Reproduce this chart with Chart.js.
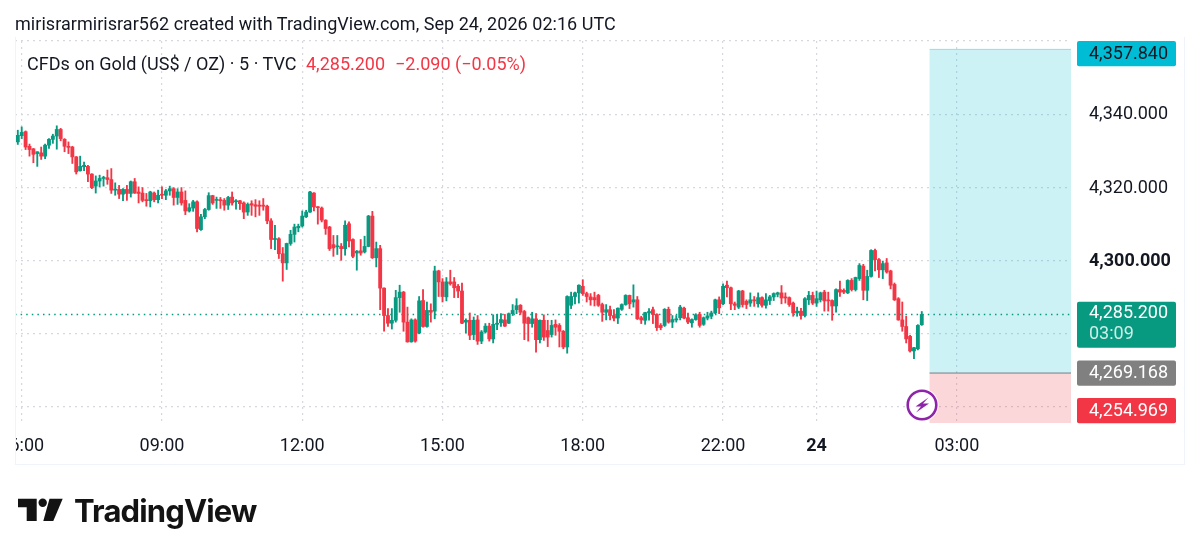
<!DOCTYPE html>
<html>
<head>
<meta charset="utf-8">
<title>CFDs on Gold</title>
<script src="https://cdn.jsdelivr.net/npm/chart.js@4"></script>
<style>
  html, body { margin: 0; padding: 0; background: #fff; }
  #wrap { position: relative; width: 1199px; height: 556px; overflow: hidden; font-family: Roboto, sans-serif; color: #131722; }
  #wrap div, #wrap span { white-space: pre; }
  canvas { position: absolute; left: 0; top: 0; }
  .abs { position: absolute; }
  #frame { left: 15px; top: 37px; width: 1168px; height: 427px; border: 1px solid #f0f3fa; border-top: none; }
  #head { left: 15px; top: 12px; font-size: 18px; line-height: 24px; letter-spacing: 0.04px; }
  #legend { left: 27px; top: 52px; font-size: 18px; line-height: 24px; letter-spacing: 0.03px; }
  #legend .px { position: absolute; top: 0; color: #f23645; letter-spacing: 0; }
  #logoText { left: 74px; top: 492px; font-family: Inter, sans-serif; font-weight: 700; font-size: 31px; line-height: 38px; letter-spacing: -0.85px; color: #131313; }
</style>
</head>
<body>
<div id="wrap">
  <canvas id="chart" width="1199" height="556"></canvas>
  <div class="abs" id="frame"></div>
  <div class="abs" id="head">mirisrarmirisrar562 created with TradingView.com, Sep 24, 2026 02:16 UTC</div>
  <div class="abs" id="legend">CFDs on Gold (US$ / OZ) · 5 · TVC<span class="px" style="left:279px">4,285.200</span><span class="px" style="left:368px">−2.090 (−0.05%)</span></div>
  <svg class="abs" style="left:905px;top:389px" width="34" height="34" viewBox="0 0 34 34">
    <circle cx="17" cy="16" r="16.5" fill="#fff"/>
    <circle cx="17" cy="16" r="14.3" fill="#fff" stroke="#8e24aa" stroke-width="2.6"/>
    <path d="M23.5 8.5 L10.5 17.5 L16 17.5 L11 23.5 L24 14.5 L18 14.5 Z" fill="#8e24aa"/>
  </svg>
  <svg class="abs" style="left:0;top:490px" width="70" height="40" viewBox="0 0 70 40">
    <path d="M18 8.7 H36.7 V31 H26.7 V17.3 H18 Z" fill="#131313"/>
    <circle cx="42.7" cy="12.7" r="4.2" fill="#131313"/>
    <path d="M49.5 8.7 H62.7 L53.3 31 H43.3 Z" fill="#131313"/>
  </svg>
  <div class="abs" id="logoText">TradingView</div>
</div>
<script>
// 5 minute candles, 05:55 to 02:15
const opens = [
  4332.4,4334.1,4335.2,4331.2,4330.5,4329.2,4329.4,4328.5,4331.5,4333.1,
  4334.0,4335.8,4333.1,4331.2,4331.0,4328.3,4324.5,4325.6,4325.7,4323.6,
  4320.3,4321.7,4322.4,4322.6,4322.1,4319.2,4319.4,4318.1,4319.4,4318.3,
  4321.5,4318.7,4318.4,4316.6,4316.3,4318.4,4316.6,4318.1,4317.8,4319.0,
  4319.6,4317.2,4318.7,4316.4,4313.5,4314.3,4316.0,4308.4,4311.9,4313.9,
  4317.7,4316.4,4316.6,4316.4,4315.1,4317.3,4316.0,4316.3,4315.7,4313.2,
  4315.5,4315.2,4315.1,4315.1,4314.8,4310.8,4305.7,4305.9,4301.8,4299.3,
  4304.6,4307.1,4308.9,4309.4,4311.9,4313.2,4318.4,4314.6,4314.3,4311.0,
  4309.1,4304.3,4303.7,4303.8,4303.2,4310.0,4305.7,4302.0,4302.6,4302.3,
  4303.8,4312.1,4300.7,4303.2,4292.4,4284.9,4282.8,4283.6,4289.8,4291.3,
  4283.1,4277.7,4283.7,4280.1,4289.0,4281.9,4286.3,4286.1,4297.1,4294.1,
  4290.0,4294.1,4294.1,4292.9,4291.6,4283.1,4283.6,4279.7,4283.7,4277.9,
  4280.4,4282.0,4278.5,4282.5,4282.9,4283.7,4282.8,4285.4,4286.5,4287.7,
  4286.0,4284.3,4282.7,4284.0,4278.3,4283.6,4280.8,4279.7,4282.5,4282.2,
  4280.6,4276.3,4287.7,4290.1,4291.1,4292.9,4290.9,4290.0,4289.8,4290.4,
  4287.9,4285.8,4286.5,4284.9,4284.2,4286.6,4287.9,4290.4,4288.6,4289.2,
  4284.3,4283.6,4285.6,4286.5,4285.2,4282.2,4282.2,4286.6,4283.1,4283.7,
  4284.3,4286.9,4284.3,4282.9,4283.8,4285.2,4282.5,4284.2,4284.7,4285.6,
  4289.2,4288.1,4293.2,4292.5,4288.1,4287.2,4291.6,4288.8,4288.3,4289.2,
  4288.1,4289.8,4287.7,4289.0,4290.0,4290.7,4291.1,4290.0,4289.8,4288.3,
  4285.6,4286.1,4284.9,4289.2,4290.4,4288.3,4289.2,4291.3,4289.0,4289.0,
  4287.5,4292.0,4291.8,4291.1,4294.5,4292.0,4295.0,4298.4,4291.8,4295.6,
  4302.7,4300.2,4297.4,4299.3,4297.1,4293.4,4289.5,4283.7,4281.9,4279.2,
  4275.2,4275.8,4282.4
];
const highs = [
  4335.6,4336.5,4335.4,4331.8,4330.6,4329.7,4331.0,4331.8,4333.3,4334.5,
  4336.8,4336.1,4333.3,4332.4,4331.2,4328.4,4328.5,4326.9,4326.0,4323.7,
  4323.1,4323.3,4323.0,4324.7,4325.1,4321.2,4320.5,4319.6,4320.5,4321.7,
  4322.4,4320.1,4319.9,4318.3,4318.9,4318.7,4319.2,4320.1,4319.4,4320.3,
  4319.9,4319.6,4319.9,4319.0,4315.5,4316.4,4316.3,4312.6,4314.2,4318.5,
  4317.8,4317.3,4317.2,4316.9,4317.5,4318.7,4316.6,4316.4,4316.0,4315.7,
  4316.3,4316.6,4316.3,4316.9,4315.1,4311.4,4309.6,4306.2,4303.5,4304.7,
  4308.2,4309.9,4309.9,4313.5,4313.7,4318.9,4318.5,4314.7,4314.6,4311.1,
  4309.3,4306.8,4306.8,4304.6,4310.8,4310.5,4305.9,4302.7,4305.7,4306.6,
  4312.3,4313.4,4305.0,4304.1,4292.5,4286.8,4286.8,4291.8,4293.2,4291.5,
  4287.2,4284.0,4284.0,4290.1,4292.0,4288.6,4288.1,4298.4,4297.3,4295.0,
  4295.3,4297.3,4295.3,4293.4,4293.8,4284.0,4285.6,4284.5,4284.9,4280.8,
  4282.7,4282.8,4285.1,4285.2,4285.4,4285.2,4285.6,4287.9,4289.5,4287.9,
  4286.3,4284.5,4285.8,4285.4,4283.7,4285.1,4283.6,4283.6,4283.7,4282.7,
  4280.8,4290.3,4291.3,4291.3,4293.3,4294.7,4291.3,4290.9,4291.3,4290.7,
  4288.3,4287.9,4287.5,4286.5,4287.0,4288.1,4290.6,4290.5,4293.3,4290.1,
  4284.7,4285.8,4286.8,4287.2,4285.4,4282.7,4286.8,4287.2,4284.9,4284.9,
  4287.7,4287.2,4285.6,4284.0,4285.4,4285.8,4284.5,4285.8,4286.1,4289.4,
  4290.0,4293.6,4294.3,4292.7,4288.6,4291.8,4291.8,4289.2,4291.1,4290.1,
  4291.1,4290.0,4290.9,4290.4,4291.1,4291.3,4293.1,4291.1,4290.0,4288.6,
  4287.2,4286.9,4289.8,4291.5,4291.3,4291.6,4291.3,4291.8,4291.3,4289.2,
  4292.2,4294.3,4292.2,4294.7,4295.0,4295.4,4299.1,4298.9,4297.3,4302.9,
  4303.1,4300.5,4299.8,4300.5,4297.3,4293.8,4289.8,4288.6,4284.7,4279.5,
  4276.2,4282.4,4286.0
];
const lows = [
  4331.7,4333.3,4330.3,4328.5,4326.7,4325.7,4327.6,4327.8,4330.6,4332.0,
  4330.4,4332.7,4329.7,4329.2,4326.5,4323.6,4324.4,4324.5,4321.5,4319.6,
  4318.4,4320.1,4320.3,4320.8,4318.3,4317.8,4316.9,4316.3,4316.4,4317.3,
  4318.3,4315.7,4316.0,4314.8,4314.6,4316.0,4315.7,4316.9,4316.6,4317.8,
  4315.1,4315.3,4315.1,4312.5,4313.2,4313.4,4307.8,4308.2,4311.4,4313.7,
  4315.3,4314.2,4314.2,4313.7,4313.9,4315.1,4314.0,4313.9,4311.4,4312.3,
  4312.3,4311.9,4312.3,4313.7,4310.0,4303.2,4302.9,4300.5,4294.3,4297.5,
  4304.1,4305.0,4307.8,4309.1,4311.7,4313.1,4313.5,4309.9,4310.5,4307.1,
  4302.7,4301.1,4301.6,4300.0,4301.4,4303.7,4300.7,4297.3,4301.4,4302.0,
  4303.7,4300.5,4298.2,4286.5,4280.6,4281.9,4281.2,4283.1,4285.8,4280.6,
  4277.6,4277.6,4277.6,4279.9,4281.7,4281.7,4283.1,4284.0,4290.1,4288.6,
  4288.9,4293.2,4289.8,4289.8,4282.7,4280.1,4278.3,4278.3,4277.0,4277.2,
  4280.1,4277.9,4277.4,4281.0,4281.9,4281.9,4282.7,4284.9,4285.4,4285.2,
  4278.3,4277.9,4281.7,4274.9,4277.4,4278.1,4276.4,4279.0,4279.5,4276.3,
  4275.8,4274.6,4286.8,4288.1,4288.3,4290.4,4288.6,4287.7,4287.5,4287.4,
  4283.3,4283.7,4283.7,4283.4,4282.7,4286.3,4287.7,4286.8,4287.2,4283.8,
  4282.7,4282.5,4283.6,4282.7,4280.8,4281.0,4281.9,4282.8,4281.6,4283.1,
  4283.7,4284.0,4282.7,4281.7,4283.6,4281.7,4282.2,4283.7,4284.0,4285.4,
  4285.4,4287.9,4290.0,4286.5,4286.5,4286.8,4287.2,4286.8,4287.4,4287.4,
  4287.2,4287.2,4286.9,4287.9,4289.0,4290.0,4288.1,4288.3,4287.4,4284.7,
  4284.7,4283.9,4284.5,4287.9,4287.9,4287.4,4288.6,4286.1,4286.1,4283.6,
  4285.8,4290.1,4290.9,4290.9,4291.6,4291.6,4294.5,4289.2,4289.0,4295.4,
  4297.1,4295.3,4295.0,4296.5,4292.2,4289.0,4283.6,4280.6,4277.4,4274.9,
  4273.1,4275.5,4282.2
];
const closes = [
  4334.2,4335.0,4331.0,4330.3,4329.0,4329.7,4328.5,4331.5,4333.1,4334.0,
  4335.8,4333.3,4331.2,4330.9,4328.3,4324.2,4325.7,4326.0,4323.6,4319.9,
  4321.7,4322.4,4322.6,4322.1,4319.2,4319.4,4318.1,4319.4,4318.3,4321.5,
  4318.4,4318.3,4316.4,4316.3,4318.7,4316.6,4317.8,4317.8,4319.0,4319.6,
  4317.2,4318.7,4315.7,4313.5,4314.4,4316.0,4308.7,4311.9,4313.9,4317.7,
  4315.7,4316.6,4316.3,4315.1,4317.2,4315.7,4316.3,4315.5,4313.2,4315.3,
  4315.1,4314.8,4314.8,4314.8,4310.8,4305.7,4305.9,4301.8,4299.3,4304.6,
  4307.1,4309.1,4309.3,4312.1,4313.2,4318.7,4314.6,4314.4,4311.0,4308.7,
  4303.2,4303.4,4303.9,4303.2,4309.6,4305.3,4301.1,4302.5,4302.0,4303.8,
  4312.1,4300.7,4303.2,4292.4,4284.9,4282.8,4283.6,4289.8,4291.3,4283.1,
  4277.7,4283.7,4277.9,4288.9,4281.9,4286.3,4285.8,4297.1,4294.1,4290.1,
  4294.1,4293.6,4292.5,4291.6,4282.8,4283.6,4279.5,4283.6,4277.9,4280.4,
  4282.0,4278.5,4282.5,4282.8,4283.8,4282.0,4285.4,4286.3,4287.6,4285.8,
  4282.8,4282.7,4284.0,4278.3,4283.6,4279.0,4279.0,4282.2,4281.7,4280.6,
  4276.3,4290.1,4290.1,4291.1,4293.2,4290.9,4290.1,4289.2,4289.2,4287.7,
  4285.8,4286.5,4284.9,4284.2,4286.9,4287.9,4290.4,4288.1,4289.2,4284.0,
  4283.7,4285.7,4286.0,4285.2,4281.6,4281.6,4286.6,4283.1,4283.8,4284.0,
  4287.2,4284.2,4283.1,4283.8,4285.1,4282.2,4284.3,4284.8,4285.6,4289.2,
  4287.0,4292.9,4292.5,4288.1,4287.7,4291.6,4287.9,4287.9,4289.2,4288.9,
  4289.8,4287.7,4289.2,4290.0,4290.9,4291.1,4289.7,4289.7,4287.9,4285.6,
  4286.1,4284.9,4289.5,4290.4,4288.3,4289.5,4291.1,4288.9,4288.9,4287.5,
  4292.0,4291.3,4291.3,4294.5,4292.0,4295.3,4298.6,4291.8,4295.6,4302.7,
  4300.2,4297.4,4299.1,4296.8,4293.2,4289.2,4283.7,4281.9,4278.5,4275.2,
  4276.1,4282.2,4285.2
];

// axis ticks, x values count candles from the first one
const timeTicks = [1, 37, 73, 109, 145, 181, 205, 241];
const timeLabels = ['06:00', '09:00', '12:00', '15:00', '18:00', '22:00', '24', '03:00'];
const priceTicks = [4260, 4280, 4300, 4320, 4340, 4360];
const priceLabels = ['', '', '4,300.000', '4,320.000', '4,340.000', ''];

// long position tool and last price
const lastPrice = 4285.2;
const countdown = '03:09';
const targetPrice = 4357.84;
const entryPrice = 4269.168;
const stopPrice = 4254.969;
const positionStart = 234;

const GREEN = '#089981';
const RED = '#f23645';
const xMin = -0.72;
const xMax = 270.3;
const yMin = 4255.5;
const yMax = 4360;

const colors = closes.map((c, i) => (c >= opens[i] ? GREEN : RED));
const wicks = closes.map((c, i) => ({ x: i, y: [lows[i], highs[i]] }));
const bodies = closes.map((c, i) => ({ x: i, y: [opens[i], c] }));

// --- position boxes, price tags ---
const positionPlugin = {
  id: 'position',
  beforeDatasetsDraw(chart) {
    const { ctx, chartArea, scales } = chart;
    const left = scales.x.getPixelForValue(positionStart);
    const right = chartArea.right;
    const top = scales.y.getPixelForValue(targetPrice);
    const mid = scales.y.getPixelForValue(entryPrice);
    const bottom = chartArea.bottom;
    ctx.save();
    ctx.fillStyle = 'rgba(0, 188, 212, 0.2)';
    ctx.fillRect(left, top, right - left, mid - top);
    ctx.fillStyle = 'rgba(242, 54, 69, 0.2)';
    ctx.fillRect(left, mid, right - left, bottom - mid);
    ctx.fillStyle = 'rgba(0, 188, 212, 0.3)';
    ctx.fillRect(left, top, right - left, 1);
    ctx.fillStyle = '#787b86';
    ctx.fillRect(left, mid - 0.5, right - left, 1);
    ctx.restore();
  },
  afterDraw(chart) {
    const { ctx, scales } = chart;
    // the first time label is cut by the pane edge
    ctx.fillStyle = '#fff';
    ctx.fillRect(0, 424, 15, 40);

    const tag = (price, text, bg, fg) => {
      const h = 25.3;
      let y = scales.y.getPixelForValue(price) - h / 2;
      y = Math.min(Math.max(y, 41), 423.3 - h);
      ctx.fillStyle = bg;
      ctx.beginPath();
      ctx.roundRect(1077, y, 99, h, 2);
      ctx.fill();
      ctx.fillStyle = fg;
      ctx.font = '18px Roboto';
      ctx.textAlign = 'left';
      ctx.textBaseline = 'middle';
      ctx.fillText(text, 1089, y + h / 2 + 0.5);
    };
    tag(targetPrice, '4,357.840', '#00bcd4', '#131722');
    tag(entryPrice, '4,269.168', '#808080', '#fff');
    tag(stopPrice, '4,254.969', RED, '#fff');

    // last price tag has the countdown under it
    const y = scales.y.getPixelForValue(lastPrice);
    ctx.fillStyle = GREEN;
    ctx.beginPath();
    ctx.roundRect(1077, y - 12.6, 99, 46, 2);
    ctx.fill();
    ctx.fillStyle = '#fff';
    ctx.fillText('4,285.200', 1089, y - 0.5);
    ctx.fillStyle = '#cdeee6';
    ctx.fillText(countdown, 1089, y + 20.5);
  }
};

const chart = new Chart(document.getElementById('chart'), {
  type: 'bar',
  plugins: [positionPlugin],
  data: {
    datasets: [
      {
        type: 'line',
        data: [{ x: xMin, y: lastPrice }, { x: xMax, y: lastPrice }],
        borderColor: GREEN,
        borderWidth: 1.5,
        borderDash: [1.5, 4.1],
        pointRadius: 0,
        order: 3
      },
      {
        data: wicks,
        backgroundColor: colors,
        barThickness: 1.2,
        grouped: false,
        order: 2
      },
      {
        data: bodies,
        backgroundColor: colors,
        barThickness: 3.2,
        minBarLength: 1,
        grouped: false,
        order: 1
      }
    ]
  },
  options: {
    responsive: false,
    animation: false,
    events: [],
    layout: { padding: { left: 15, top: 41 } },
    plugins: { legend: { display: false }, tooltip: { enabled: false } },
    scales: {
      x: {
        type: 'linear',
        offset: false,
        min: xMin,
        max: xMax,
        border: { display: false, dash: [2, 4] },
        grid: { color: '#d5d8df', lineWidth: 1.2, drawTicks: false, offset: false },
        afterBuildTicks: (scale) => { scale.ticks = timeTicks.map(value => ({ value })); },
        afterFit: (scale) => {
          scale.height = 133;
          scale.paddingLeft = 0;
          scale.paddingRight = 0;
        },
        ticks: {
          autoSkip: false,
          maxRotation: 0,
          padding: 13,
          color: '#131722',
          font: (c) => ({ family: 'Roboto', size: 18, weight: c.tick && c.tick.value === 205 ? 'bold' : 'normal' }),
          callback: (value, index) => timeLabels[index]
        }
      },
      y: {
        position: 'right',
        min: yMin,
        max: yMax,
        border: { display: false, dash: [2, 4] },
        grid: { color: '#d5d8df', lineWidth: 1.2, drawTicks: false },
        afterBuildTicks: (scale) => { scale.ticks = priceTicks.map(value => ({ value })); },
        afterFit: (scale) => {
          scale.width = 128;
          scale.paddingTop = 0;
          scale.paddingBottom = 0;
        },
        ticks: {
          autoSkip: false,
          padding: 18,
          labelOffset: 0.8,
          color: '#131722',
          crossAlign: 'near',
          font: (c) => ({ family: 'Roboto', size: 18, weight: c.tick && c.tick.value === 4300 ? 'bold' : 'normal' }),
          callback: (value, index) => priceLabels[index]
        }
      }
    }
  }
});
</script>
</body>
</html>
